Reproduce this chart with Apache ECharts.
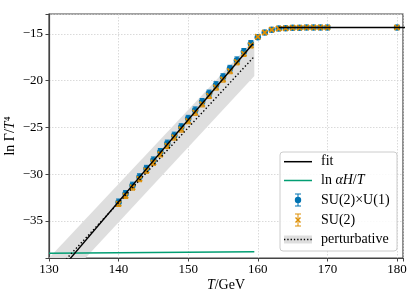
<!DOCTYPE html>
<html><head><meta charset="utf-8">
<script src="https://cdn.jsdelivr.net/npm/echarts@6/dist/echarts.min.js"></script>
<style>html,body{margin:0;padding:0;background:#fff}#c{width:415px;height:297px}</style>
</head><body><div id="c"></div>
<script>
// ---- data ----
const temps = [140,141,142,143,144,145,146,147,148,149,150,151,152,153,154,155,156,157,158,159,160,161,162,163,164,165,166,167,168,169,170,180];
const su2u1Vals = [-33.0,-32.1,-31.2,-30.3,-29.4,-28.5,-27.6,-26.7,-25.85,-24.95,-24.05,-23.15,-22.25,-21.35,-20.45,-19.6,-18.7,-17.8,-16.9,-16.05,-15.35,-14.85,-14.55,-14.42,-14.38,-14.33,-14.32,-14.3,-14.3,-14.3,-14.3,-14.3];
const su2u1Err = [0.35,0.35,0.35,0.35,0.35,0.35,0.35,0.35,0.35,0.35,0.35,0.35,0.35,0.35,0.35,0.35,0.35,0.35,0.35,0.35,0.15,0.15,0.15,0.15,0.15,0.15,0.15,0.15,0.15,0.15,0.15,0.15];
const su2Vals = [-33.15,-32.3,-31.4,-30.5,-29.6,-28.75,-27.85,-26.95,-26.05,-25.2,-24.3,-23.4,-22.5,-21.6,-20.7,-19.85,-18.95,-18.0,-17.1,-16.2,-15.3,-14.85,-14.55,-14.42,-14.38,-14.33,-14.32,-14.3,-14.3,-14.3,-14.3,-14.3];
const su2Err = [0.3,0.3,0.3,0.3,0.3,0.3,0.3,0.3,0.3,0.3,0.3,0.3,0.3,0.3,0.3,0.3,0.3,0.3,0.3,0.3,0.15,0.15,0.15,0.15,0.15,0.15,0.15,0.15,0.15,0.15,0.15,0.15];
const fitLinT = [132.5, 159.3];
const fitLinV = [-39.5, -16.05];
const fitPlatT = [163, 182];
const fitPlatV = [-14.3, -14.3];
const alphaT = [130, 159.5];
const alphaV = [-38.45, -38.3];
const pertT = [130, 159.5];
const pertV = [-41.06, -17.4];
const pertLow = [-43.16, -19.5];
const pertHigh = [-38.96, -15.6];
const xTicks = [130,140,150,160,170,180];
const yTicks = [-35,-30,-25,-20,-15];

// ---- styles ----
const BLUE = '#0173b2', ORANGE = '#de8f05', GREEN = '#029e73';
const SERIF = '"Liberation Serif", "DejaVu Serif", serif';
const XSHAPE = 'path://M2,0 L5,3 L8,0 L10,2 L7,5 L10,8 L8,10 L5,7 L2,10 L0,8 L3,5 L0,2 Z';

function pairs(xs, ys){ return xs.map((x,i)=>[x, ys[i]]); }
function errData(ys, es){ return temps.map((t,i)=>[t, ys[i]-es[i], ys[i]+es[i]]); }
function errSeries(name, ys, es, color){
  return {
    type:'custom', name, z:3,
    data: errData(ys, es),
    encode:{x:0, y:[1,2]},
    clip:true,
    renderItem(params, api){
      const lo = api.coord([api.value(0), api.value(1)]);
      const hi = api.coord([api.value(0), api.value(2)]);
      const w = 2.5;
      return {type:'group', children:[
        {type:'line', shape:{x1:lo[0],y1:lo[1],x2:hi[0],y2:hi[1]}, style:{stroke:color,lineWidth:1}},
        {type:'line', shape:{x1:lo[0]-w,y1:lo[1],x2:lo[0]+w,y2:lo[1]}, style:{stroke:color,lineWidth:1}},
        {type:'line', shape:{x1:hi[0]-w,y1:hi[1],x2:hi[0]+w,y2:hi[1]}, style:{stroke:color,lineWidth:1}}
      ]};
    }
  };
}
const bandData = pertT.map((t,i)=>[t, pertLow[i], pertHigh[i]]);
const bandSeries = {
  type:'custom', name:'band', z:1, silent:true, clip:true,
  data: bandData,
  encode:{x:0, y:[1,2]},
  renderItem(params, api){
    if (params.dataIndex !== 0) return null;
    const top = bandData.map(d => api.coord([d[0], d[2]]));
    const bot = bandData.map(d => api.coord([d[0], d[1]])).reverse();
    return {type:'polygon', shape:{points: top.concat(bot)}, style:{fill:'#dedede'}};
  }
};
const chart = echarts.init(document.getElementById('c'), null, {renderer:'canvas'});
const fmt = v => (Math.abs(v-Math.round(v))>1e-6) ? '' : String(v).replace('-', '\u2212');

// legend geometry (pixels)
const LX = 280, LY = 152, LW = 117, LH = 99;
const rows = [161.7, 180.5, 200, 220, 239.5];
const ix0 = 284, ix1 = 312, icx = 298, tx = 321;
const rich = {
  r:{fontFamily:SERIF,fontSize:14,color:'#000'},
  i:{fontFamily:SERIF,fontSize:14,fontStyle:'italic',color:'#000'}
};
const legendGraphics = [
  {type:'rect', shape:{x:LX,y:LY,width:LW,height:LH,r:3}, style:{fill:'rgba(255,255,255,0.85)',stroke:'#cccccc',lineWidth:1}, z:100},
  {type:'line', shape:{x1:ix0,y1:rows[0],x2:ix1,y2:rows[0]}, style:{stroke:'#000',lineWidth:1.5}, z:101},
  {type:'line', shape:{x1:ix0,y1:rows[1],x2:ix1,y2:rows[1]}, style:{stroke:GREEN,lineWidth:1.5}, z:101},
  {type:'line', shape:{x1:icx,y1:rows[2]-6,x2:icx,y2:rows[2]+6}, style:{stroke:BLUE,lineWidth:1}, z:101},
  {type:'line', shape:{x1:icx-3,y1:rows[2]-6,x2:icx+3,y2:rows[2]-6}, style:{stroke:BLUE,lineWidth:1}, z:101},
  {type:'line', shape:{x1:icx-3,y1:rows[2]+6,x2:icx+3,y2:rows[2]+6}, style:{stroke:BLUE,lineWidth:1}, z:101},
  {type:'circle', shape:{cx:icx,cy:rows[2],r:3.2}, style:{fill:BLUE}, z:101},
  {type:'line', shape:{x1:icx,y1:rows[3]-6,x2:icx,y2:rows[3]+6}, style:{stroke:ORANGE,lineWidth:1}, z:101},
  {type:'line', shape:{x1:icx-3,y1:rows[3]-6,x2:icx+3,y2:rows[3]-6}, style:{stroke:ORANGE,lineWidth:1}, z:101},
  {type:'line', shape:{x1:icx-3,y1:rows[3]+6,x2:icx+3,y2:rows[3]+6}, style:{stroke:ORANGE,lineWidth:1}, z:101},
  {type:'line', shape:{x1:icx-2.5,y1:rows[3]-2.5,x2:icx+2.5,y2:rows[3]+2.5}, style:{stroke:ORANGE,lineWidth:1.4}, z:101},
  {type:'line', shape:{x1:icx-2.5,y1:rows[3]+2.5,x2:icx+2.5,y2:rows[3]-2.5}, style:{stroke:ORANGE,lineWidth:1.4}, z:101},
  {type:'rect', shape:{x:ix0,y:rows[4]-4,width:ix1-ix0,height:8}, style:{fill:'#dedede'}, z:101},
  {type:'line', shape:{x1:ix0,y1:rows[4],x2:ix1,y2:rows[4]}, style:{stroke:'#000',lineWidth:1.3,lineDash:[1.3,2]}, z:102},
  {type:'text', x:tx, y:rows[0], style:{text:'fit', font:'14px '+SERIF, fill:'#000', verticalAlign:'middle'}, z:101},
  {type:'text', x:tx, y:rows[1], style:{text:'{r|ln }{i|αH}{r|/}{i|T}', rich, verticalAlign:'middle'}, z:101},
  {type:'text', x:tx, y:rows[2], style:{text:'SU(2)×U(1)', font:'14px '+SERIF, fill:'#000', verticalAlign:'middle'}, z:101},
  {type:'text', x:tx, y:rows[3], style:{text:'SU(2)', font:'14px '+SERIF, fill:'#000', verticalAlign:'middle'}, z:101},
  {type:'text', x:tx, y:rows[4], style:{text:'perturbative', font:'14px '+SERIF, fill:'#000', verticalAlign:'middle'}, z:101}
];

chart.setOption({
  animation:false,
  backgroundColor:'#fff',
  grid:{left:49, right:12, top:14, bottom:39, containLabel:false, outerBoundsMode:'none', show:true, borderColor:'#444', borderWidth:1.2, backgroundColor:'transparent'},
  xAxis:{
    type:'value', min:130, max:180.86, splitNumber:5,
    name:'{i|T}{r|/GeV}', nameLocation:'middle', nameGap:20, nameMoveOverlap:false,
    nameTextStyle:{rich},
    axisLine:{show:true, onZero:false, lineStyle:{color:'#444', width:1.2}},
    axisTick:{show:true, length:3.5, lineStyle:{color:'#444'}},
    axisLabel:{formatter:fmt, fontFamily:SERIF, fontSize:13, color:'#000', margin:5},
    splitLine:{show:true, lineStyle:{color:'#d0d0d0', type:[1.5,1.5], width:0.8}}
  },
  yAxis:{
    type:'value', min:-38.96, max:-12.86, splitNumber:5,
    name:'{r|ln Γ/}{i|T}{r|⁴}', nameLocation:'middle', nameGap:32, nameRotate:90, nameMoveOverlap:false,
    nameTextStyle:{rich},
    axisLine:{show:true, onZero:false, lineStyle:{color:'#444', width:1.2}},
    axisTick:{show:true, length:3.5, lineStyle:{color:'#444'}},
    axisLabel:{formatter:fmt, fontFamily:SERIF, fontSize:13, color:'#000', margin:6},
    splitLine:{show:true, lineStyle:{color:'#d0d0d0', type:[1.5,1.5], width:0.8}}
  },
  graphic: legendGraphics,
  series:[
    bandSeries,
    {type:'line', name:'alpha', data:pairs(alphaT, alphaV), symbol:'none', lineStyle:{color:GREEN, width:1.5}, z:2},
    errSeries('su2u1err', su2u1Vals, su2u1Err, BLUE),
    {type:'scatter', name:'SU(2)×U(1)', data:pairs(temps, su2u1Vals), symbol:'circle', symbolSize:6.5, itemStyle:{color:BLUE, opacity:1}, z:4},
    errSeries('su2err', su2Vals, su2Err, ORANGE),
    {type:'scatter', name:'SU(2)', data:pairs(temps, su2Vals), symbol:XSHAPE, symbolSize:6.5, itemStyle:{color:ORANGE, opacity:1}, z:5},
    {type:'line', name:'perturbative', data:pairs(pertT, pertV), symbol:'none', lineStyle:{color:'#000', width:1.4, type:[1.4,2.2]}, z:6},
    {type:'line', name:'fit', data:pairs(fitLinT, fitLinV), symbol:'none', lineStyle:{color:'#000', width:1.4}, z:7},
    {type:'line', name:'fit2', data:pairs(fitPlatT, fitPlatV), symbol:'none', lineStyle:{color:'#000', width:1.4}, z:7}
  ]
});
</script></body></html>
